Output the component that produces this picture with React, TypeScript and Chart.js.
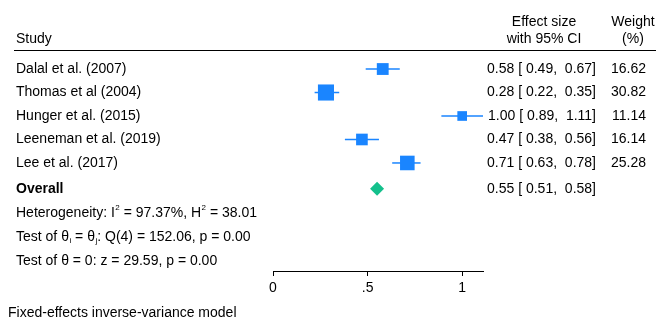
import React, { useEffect, useRef } from "react";
import { Chart, registerables } from "chart.js";

Chart.register(...registerables);

const studies = [
  "Dalal et al. (2007)",
  "Thomas et al (2004)",
  "Hunger et al. (2015)",
  "Leeneman et al. (2019)",
  "Lee et al. (2017)",
];
const effect = [0.58, 0.28, 1.0, 0.47, 0.71];
const lower = [0.49, 0.22, 0.89, 0.38, 0.63];
const upper = [0.67, 0.35, 1.11, 0.56, 0.78];
const weights = [16.62, 30.82, 11.14, 16.14, 25.28];
const overallLabel = "Overall";
const overallEffect = 0.55;
const overallLower = 0.51;
const overallUpper = 0.58;
const tickValues = [0, 0.5, 1];
const tickLabels = ["0", ".5", "1"];

const rows = [1, 2, 3, 4, 5];
const overallRow = 6.1;
const statRows = [7.13, 8.15, 9.17];

const FONT = "'Liberation Sans', Arial, sans-serif";
const FS = 14;
const BLUE = "#1a85ff";
const GREEN = "#14c08c";

type Seg = { t: string; sup?: boolean; sub?: boolean };
const statLines: Seg[][] = [
  [{ t: "Heterogeneity: I" }, { t: "2", sup: true }, { t: " = 97.37%, H" }, { t: "2", sup: true }, { t: " = 38.01" }],
  [{ t: "Test of θ" }, { t: "i", sub: true }, { t: " = θ" }, { t: "j", sub: true }, { t: ": Q(4) = 152.06, p = 0.00" }],
  [{ t: "Test of θ = 0: z = 29.59, p = 0.00" }],
];

const f2 = (v: number) => v.toFixed(2);

const textPlugin = {
  id: "forestText",
  afterDraw(chart: any) {
    const ctx = chart.ctx as CanvasRenderingContext2D;
    const y = chart.scales.y;
    ctx.save();
    ctx.fillStyle = "#000";
    ctx.textBaseline = "middle";
    ctx.font = `${FS}px ${FONT}`;
    // headers
    ctx.textAlign = "left";
    ctx.fillText("Study", 16, 39);
    ctx.textAlign = "center";
    ctx.fillText("Effect size", 544, 22);
    ctx.fillText("with 95% CI", 544, 39);
    ctx.fillText("Weight", 633, 22);
    ctx.fillText("(%)", 633, 39);
    // header rule
    ctx.strokeStyle = "#000";
    ctx.lineWidth = 1;
    ctx.beginPath();
    ctx.moveTo(14, 50.5);
    ctx.lineTo(656, 50.5);
    ctx.stroke();
    // study rows
    studies.forEach((s, i) => {
      const py = y.getPixelForValue(rows[i]);
      ctx.textAlign = "left";
      ctx.fillText(s, 16, py);
      ctx.textAlign = "right";
      ctx.fillText(`${f2(effect[i])} [ ${f2(lower[i])},  ${f2(upper[i])}]`, 596, py);
      ctx.fillText(f2(weights[i]), 646, py);
    });
    // overall
    const oy = y.getPixelForValue(overallRow);
    ctx.font = `bold ${FS}px ${FONT}`;
    ctx.textAlign = "left";
    ctx.fillText(overallLabel, 16, oy);
    ctx.font = `${FS}px ${FONT}`;
    ctx.textAlign = "right";
    ctx.fillText(`${f2(overallEffect)} [ ${f2(overallLower)},  ${f2(overallUpper)}]`, 596, oy);
    // stats
    ctx.textAlign = "left";
    statLines.forEach((segs, i) => {
      const py = y.getPixelForValue(statRows[i]);
      let x = 16;
      segs.forEach((sg) => {
        if (sg.sup || sg.sub) {
          ctx.font = `${Math.round(FS * 0.6)}px ${FONT}`;
          ctx.fillText(sg.t, x + 0.5, py + (sg.sup ? -5 : 4));
          x += ctx.measureText(sg.t).width + 0.5;
          ctx.font = `${FS}px ${FONT}`;
        } else {
          ctx.fillText(sg.t, x, py);
          x += ctx.measureText(sg.t).width;
        }
      });
    });
    // footer
    ctx.fillText("Fixed-effects inverse-variance model", 8, 313);
    ctx.restore();
  },
};

export default function App() {
  const ref = useRef<HTMLCanvasElement | null>(null);
  useEffect(() => {
    if (!ref.current) return;
    const ciSets = studies.map((s, i) => ({
      type: "line" as const,
      label: s + " CI",
      data: [
        { x: lower[i], y: rows[i] },
        { x: upper[i], y: rows[i] },
      ],
      borderColor: BLUE,
      borderWidth: 1.5,
      pointRadius: 0,
      showLine: true,
      order: 2,
    }));
    const chart = new Chart(ref.current, {
      type: "scatter",
      data: {
        datasets: [
          {
            label: "Studies",
            data: studies.map((s, i) => ({ x: effect[i], y: rows[i] })),
            backgroundColor: BLUE,
            borderWidth: 0,
            pointStyle: "rect",
            pointRadius: weights.map((w) => (2.9 * Math.sqrt(w)) / Math.SQRT2),
            order: 0,
          } as any,
          {
            label: "Overall",
            data: [{ x: overallEffect, y: overallRow }],
            backgroundColor: GREEN,
            borderWidth: 0,
            pointStyle: "rectRot",
            pointRadius: 7,
            order: 0,
          },
          ...ciSets,
        ],
      },
      options: {
        animation: false,
        responsive: false,
        devicePixelRatio: 1,
        layout: { padding: { left: 273, right: 182, top: 50, bottom: 26 } },
        plugins: { legend: { display: false }, tooltip: { enabled: false } },
        scales: {
          x: {
            type: "linear",
            min: 0,
            max: 1.11,
            afterBuildTicks: (sc: any) => {
              sc.ticks = tickValues.map((v) => ({ value: v }));
            },
            afterFit: (sc: any) => {
              sc.height = 24;
            },
            ticks: {
              callback: (v: any) => {
                const k = tickValues.indexOf(Number(v));
                return k >= 0 ? tickLabels[k] : "";
              },
              color: "#000",
              font: { family: FONT, size: FS },
              maxRotation: 0,
              padding: 4,
            },
            grid: { drawOnChartArea: false, drawTicks: true, tickLength: 5, color: "#000" },
            border: { display: true, color: "#000", width: 1 },
          },
          y: {
            type: "linear",
            min: 0.19,
            max: 9.6,
            reverse: true,
            display: false,
          },
        },
      },
      plugins: [textPlugin],
    } as any);
    return () => chart.destroy();
  }, []);
  return (
    <div style={{ position: "fixed", left: 0, top: 0, width: 665, height: 321, background: "#fff" }}>
      <canvas ref={ref} width={665} height={321} style={{ display: "block" }} />
    </div>
  );
}
